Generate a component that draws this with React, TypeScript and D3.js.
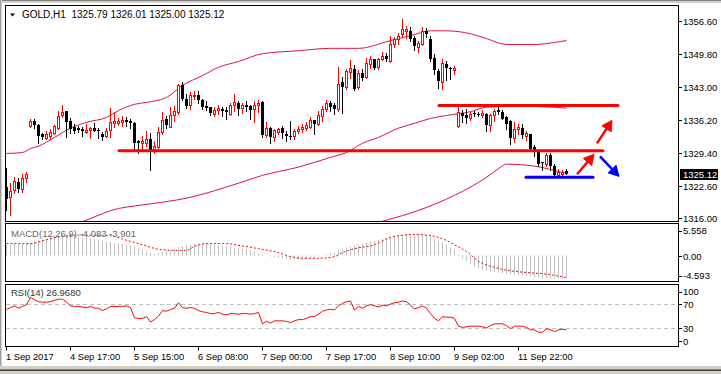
import React from "react";
import * as d3 from "d3";

const W = 721;
const H = 374;

// H1 bars, oldest first: [open, high, low, close]
const ohlc: [number, number, number, number][] = [
  [1322.5, 1326.4, 1317.6, 1320.0], [1320.3, 1323.2, 1316.6, 1321.5], [1321.7, 1324.4, 1321.1, 1323.6],
  [1323.4, 1324.2, 1321.4, 1321.9], [1321.9, 1325.0, 1321.3, 1324.2], [1324.2, 1325.4, 1323.4, 1325.0],
  [1334.9, 1336.4, 1334.7, 1336.0], [1335.9, 1336.3, 1334.5, 1335.1], [1335.2, 1335.4, 1331.4, 1332.9],
  [1333.2, 1333.6, 1332.3, 1332.7], [1332.5, 1334.0, 1332.2, 1333.4], [1332.9, 1334.3, 1332.3, 1333.7],
  [1333.6, 1335.2, 1333.2, 1334.9], [1334.6, 1338.1, 1334.4, 1337.0], [1337.3, 1339.3, 1336.8, 1337.8],
  [1338.1, 1338.1, 1332.7, 1335.7], [1335.9, 1336.5, 1333.6, 1334.4], [1334.7, 1335.3, 1333.6, 1334.0],
  [1334.5, 1335.0, 1333.7, 1334.1], [1334.4, 1334.8, 1332.8, 1334.0], [1333.7, 1335.4, 1333.5, 1334.2],
  [1334.2, 1334.7, 1332.5, 1334.6], [1334.6, 1335.6, 1333.9, 1334.0], [1334.2, 1334.5, 1332.4, 1333.9],
  [1333.4, 1333.7, 1332.0, 1332.7], [1332.9, 1334.5, 1332.7, 1334.0], [1334.2, 1338.6, 1332.7, 1335.7],
  [1335.6, 1337.8, 1334.7, 1335.9], [1335.5, 1336.6, 1335.1, 1335.9], [1335.8, 1336.9, 1335.0, 1336.2],
  [1336.2, 1336.7, 1335.0, 1335.7], [1335.9, 1336.4, 1334.5, 1335.5], [1335.6, 1335.7, 1330.3, 1331.4],
  [1331.8, 1332.0, 1329.3, 1331.4], [1331.4, 1332.8, 1329.8, 1331.8], [1331.4, 1333.9, 1330.9, 1332.2],
  [1332.3, 1333.6, 1326.0, 1329.9], [1329.9, 1331.8, 1329.3, 1330.9], [1330.7, 1334.7, 1329.9, 1333.8],
  [1333.8, 1337.9, 1333.3, 1336.2], [1336.4, 1336.9, 1334.5, 1335.2], [1334.8, 1338.8, 1334.7, 1337.2],
  [1337.3, 1339.1, 1336.0, 1338.0], [1337.8, 1343.6, 1337.5, 1343.3], [1343.3, 1344.0, 1340.2, 1340.5],
  [1340.5, 1341.6, 1338.7, 1339.1], [1339.3, 1342.0, 1338.5, 1341.4], [1341.1, 1342.1, 1340.5, 1341.4],
  [1341.4, 1342.1, 1339.6, 1340.3], [1340.3, 1340.5, 1338.5, 1338.8], [1339.0, 1340.1, 1338.2, 1338.7],
  [1338.8, 1338.9, 1337.3, 1337.6], [1337.5, 1338.8, 1337.0, 1338.3], [1338.3, 1339.3, 1337.5, 1338.7],
  [1338.5, 1338.8, 1336.9, 1338.0], [1338.3, 1338.9, 1336.3, 1337.8], [1337.5, 1339.7, 1337.2, 1339.2],
  [1339.3, 1341.6, 1338.1, 1339.8], [1339.6, 1340.0, 1337.3, 1338.5], [1338.6, 1339.6, 1337.7, 1339.3],
  [1339.2, 1340.1, 1338.0, 1338.9], [1339.0, 1339.2, 1336.4, 1338.3], [1338.5, 1340.0, 1335.7, 1339.3],
  [1339.2, 1340.3, 1337.8, 1339.7], [1339.8, 1340.0, 1332.7, 1333.0], [1333.0, 1335.8, 1332.6, 1334.6],
  [1334.5, 1334.7, 1331.4, 1332.7], [1332.7, 1334.4, 1331.8, 1334.2], [1333.7, 1334.6, 1333.2, 1334.3],
  [1334.6, 1335.0, 1332.5, 1333.5], [1333.2, 1334.0, 1331.8, 1332.9], [1332.9, 1335.9, 1332.2, 1332.7],
  [1332.9, 1334.4, 1332.3, 1334.0], [1334.0, 1334.9, 1333.6, 1334.4], [1334.3, 1335.3, 1333.8, 1334.7],
  [1334.6, 1335.8, 1334.1, 1335.1], [1334.8, 1336.8, 1334.5, 1336.1], [1336.1, 1336.2, 1333.3, 1335.4],
  [1335.4, 1338.0, 1335.1, 1337.3], [1336.9, 1339.0, 1336.0, 1338.5], [1338.5, 1340.2, 1338.0, 1339.6],
  [1339.6, 1340.1, 1338.1, 1338.8], [1339.2, 1339.6, 1337.5, 1338.5], [1338.5, 1347.1, 1338.1, 1343.6],
  [1343.9, 1345.0, 1337.6, 1343.0], [1343.0, 1346.6, 1342.6, 1346.3], [1346.1, 1348.5, 1344.9, 1346.8],
  [1346.6, 1347.4, 1342.3, 1342.5], [1343.0, 1346.4, 1342.5, 1345.9], [1345.9, 1346.6, 1344.4, 1344.9],
  [1345.1, 1349.0, 1344.8, 1347.9], [1347.7, 1349.4, 1346.9, 1348.7], [1348.7, 1348.8, 1346.6, 1346.9],
  [1347.1, 1349.0, 1346.6, 1348.8], [1348.8, 1350.2, 1348.5, 1349.4], [1349.4, 1349.9, 1348.2, 1348.7],
  [1348.3, 1353.5, 1348.1, 1351.7], [1351.7, 1353.3, 1351.1, 1352.8], [1352.8, 1354.1, 1351.7, 1353.5],
  [1353.8, 1357.0, 1353.5, 1354.8], [1354.5, 1355.5, 1353.1, 1354.9], [1354.5, 1355.2, 1352.4, 1352.8],
  [1353.1, 1353.4, 1350.5, 1351.4], [1351.2, 1352.4, 1350.2, 1351.9], [1351.7, 1355.2, 1351.5, 1354.5],
  [1354.5, 1355.1, 1353.2, 1353.8], [1352.9, 1353.5, 1348.4, 1348.8], [1349.0, 1349.7, 1345.6, 1346.5],
  [1346.3, 1346.6, 1342.7, 1344.2], [1344.0, 1348.7, 1342.6, 1347.9], [1347.6, 1348.3, 1344.4, 1346.8],
  [1346.8, 1347.1, 1344.7, 1346.6], [1346.5, 1347.3, 1345.7, 1346.8], [1334.9, 1338.8, 1334.7, 1337.8],
  [1337.7, 1338.2, 1335.7, 1337.0], [1337.3, 1338.5, 1335.5, 1336.6], [1336.6, 1337.8, 1336.1, 1337.5],
  [1337.6, 1338.0, 1337.0, 1337.4], [1337.5, 1337.8, 1337.0, 1337.3], [1337.3, 1338.2, 1336.8, 1337.7],
  [1337.5, 1337.7, 1334.0, 1335.1], [1335.2, 1337.5, 1334.0, 1337.3], [1337.2, 1338.5, 1335.9, 1338.1],
  [1338.2, 1338.9, 1337.5, 1337.9], [1337.9, 1338.3, 1336.3, 1336.4], [1336.8, 1337.0, 1334.3, 1335.4],
  [1335.9, 1336.1, 1331.3, 1332.4], [1332.4, 1335.7, 1331.6, 1334.4], [1334.4, 1335.4, 1333.2, 1334.8],
  [1334.6, 1335.4, 1332.4, 1333.0], [1332.9, 1333.9, 1332.0, 1333.6], [1333.3, 1333.3, 1330.0, 1330.2],
  [1330.6, 1331.0, 1328.8, 1329.9], [1329.6, 1329.7, 1326.8, 1327.2], [1327.5, 1327.5, 1326.0, 1327.3],
  [1327.2, 1329.3, 1326.8, 1328.9], [1329.0, 1329.3, 1326.0, 1326.8], [1326.8, 1327.2, 1324.5, 1324.8],
  [1324.9, 1326.2, 1324.5, 1325.5], [1325.0, 1325.9, 1324.6, 1325.5], [1325.79, 1326.01, 1325.0, 1325.12],
];

// Bollinger bands: [bar, price]
const upperBand: [number, number][] = [
  [0, 1329.3], [4, 1329.5], [6, 1330.3], [8, 1330.8], [12, 1332.6], [16, 1334.5], [20, 1335.7],
  [25, 1336.7], [28, 1338.1], [32, 1339.4], [35, 1339.8], [40, 1340.8], [44, 1343.3], [49, 1345.3],
  [53, 1347.0], [58, 1348.2], [64, 1349.8], [73, 1350.4], [81, 1350.9], [88, 1350.9], [96, 1352.5],
  [101, 1353.5], [106, 1354.5], [110, 1354.5], [116, 1353.9], [120, 1352.9], [125, 1351.7],
  [132, 1351.7], [137, 1352.1], [140, 1352.5],
];
const middleBand: [number, number][] = [
  [13, 1313.1], [20, 1315.6], [28, 1318.0], [32, 1318.5], [46, 1320.3], [58, 1323.2], [64, 1324.8],
  [73, 1326.5], [81, 1328.5], [85, 1329.5], [89, 1331.4], [93, 1332.6], [98, 1334.5], [102, 1335.5],
  [106, 1336.5], [110, 1337.1], [116, 1337.9], [120, 1338.8], [128, 1339.0], [137, 1338.8], [140, 1338.6],
];
const lowerBand: [number, number][] = [
  [88, 1314.0], [95, 1315.6], [103, 1317.6], [112, 1320.7], [116, 1322.4], [120, 1324.4], [123, 1326.2],
  [125, 1327.1], [132, 1326.7], [137, 1325.8], [140, 1325.2],
];

// MACD(12,26,9) main, one per bar
const macdMain = [
  1.9, 1.9, 2.0, 2.0, 2.0, 2.1, 2.3, 2.5, 2.7, 2.8, 3.0,
  3.2, 3.3, 3.4, 3.5, 3.5, 3.5, 3.4, 3.3, 3.2, 3.1, 3.0, 2.9, 2.8, 2.6, 2.5, 2.3,
  2.2, 2.1, 2.0, 1.9, 1.8, 1.5, 1.2, 0.9, 0.7, 0.4, 0.3, 0.4, 0.6, 0.8, 1.0, 1.2, 1.5,
  1.7, 1.8, 1.9, 2.0, 2.1, 2.1, 2.0, 1.9, 1.9, 1.8, 1.7, 1.6, 1.6,
  1.4, 1.3, 1.2, 1.1, 0.9, 0.7, 0.5, 0.2, 0.0, -0.2, -0.3, -0.4, -0.5, -0.6, -0.7, -0.7, -0.7,
  -0.7, -0.6, -0.5, -0.4, -0.2, 0.0, 0.2, 0.4, 0.5, 0.9, 1.1, 1.4, 1.6, 1.7, 1.9,
  2.1, 2.3, 2.5, 2.6, 2.8, 2.9, 3.1, 3.3, 3.4, 3.5, 3.6, 3.7, 3.7, 3.6, 3.6, 3.7, 3.6, 3.4,
  3.0, 2.6, 2.3, 1.9, 1.4, 0.9, 0.2, -0.5, -1.0, -1.5, -1.9, -2.2, -2.5, -2.7,
  -2.9, -3.0, -3.0, -3.1, -3.2, -3.4, -3.4, -3.4, -3.5, -3.5, -3.7, -3.8, -3.9, -4.0, -4.0,
  -4.0, -4.1, -4.1, -4.1, -4.083,
];
// MACD signal line: [bar, value]
const macdSignal: [number, number][] = [
  [0, 2.1], [6, 2.1], [10, 2.8], [15, 3.5], [18, 3.6], [26, 3.5], [29, 2.9], [34, 1.9], [38, 1.1],
  [42, 0.9], [45, 0.9], [47, 1.6], [50, 2.1], [55, 2.1], [58, 1.8], [63, 1.2], [68, 0.5], [71, -0.2],
  [74, -0.5], [78, -0.5], [82, -0.2], [84, 0.5], [87, 1.2], [92, 1.9], [96, 3.2], [102, 3.7],
  [106, 3.5], [108, 3.2], [112, 1.9], [115, 0.7], [118, -1.0], [122, -2.1], [125, -2.6], [130, -3.0],
  [135, -3.3], [140, -3.901],
];
// RSI(14), one per bar
const rsi = [
  61, 64, 67, 63, 66, 69, 81, 77, 74, 73, 73, 74, 76, 78, 78, 73, 67, 66, 66, 65,
  64, 66, 63, 63, 59, 62, 66, 66, 66, 66, 67, 64, 47, 46, 46, 49, 40, 44, 50, 59,
  58, 61, 63, 72, 64, 63, 64, 63, 59, 57, 56, 54, 54, 56, 53, 52, 54, 54, 53, 54,
  54, 53, 54, 56, 37, 41, 38, 42, 42, 42, 41, 39, 42, 44, 44, 46, 49, 49, 53, 58,
  60, 61, 60, 67, 71, 74, 75, 60, 66, 63, 67, 69, 67, 65, 68, 67, 70, 72, 73, 75,
  74, 68, 62, 64, 67, 63, 54, 46, 42, 49, 48, 48, 46, 33, 31, 32, 33, 33, 33, 32,
  30, 34, 37, 37, 37, 34, 29, 33, 33, 33, 31, 27, 27, 23, 23, 29, 27, 24, 27, 28,
  26.968,
];

const priceTicks = [1356.6, 1349.8, 1343.0, 1336.2, 1329.4, 1322.6, 1316.0];
const macdTicks = [5.558, 0, -4.593];
const rsiTicks = [100, 70, 30, 0];
const timeLabels = [
  "1 Sep 2017", "4 Sep 17:00", "5 Sep 15:00", "6 Sep 08:00", "7 Sep 00:00",
  "7 Sep 17:00", "8 Sep 10:00", "9 Sep 02:00", "11 Sep 22:00",
];
const timeLabelBars = [0, 16, 32, 48, 64, 80, 96, 112, 128];

// drawn objects, in bar / price units
const resistance = { price: 1339.17, from: 108.25, to: 153 };
const support = { price: 1329.84, from: 28.25, to: 149.25 };
const bottomLine = { price: 1324.4, from: 130, to: 146.75 };
const upArrows: [number, number, number, number][] = [
  [142.75, 1325.02, 147.0, 1329.12],
  [147.75, 1331.38, 151.5, 1336.1],
];
const downArrows: [number, number, number, number][] = [[148.5, 1328.71, 153.25, 1324.6]];

const FONT = "'Liberation Sans', Arial, sans-serif";

function arrowParts(x1: number, y1: number, x2: number, y2: number) {
  const dx = x2 - x1;
  const dy = y2 - y1;
  const len = Math.hypot(dx, dy);
  const ux = dx / len;
  const uy = dy / len;
  const head = 10;
  const half = 5.5;
  const bx = x2 - ux * head;
  const by = y2 - uy * head;
  const nx = -uy;
  const ny = ux;
  return {
    shaft: `M${x1},${y1}L${bx + ux},${by + uy}`,
    head: `M${x2},${y2}L${bx + nx * half},${by + ny * half}L${bx - nx * half},${by - ny * half}Z`,
  };
}

export default function App() {
  const x = d3.scaleLinear().domain([0, 168]).range([6, 678]);
  const y = d3.scaleLinear().domain([1316, 1356.6]).range([218.2, 20.6]);
  const yM = d3.scaleLinear().domain([-4.593, 5.558]).range([281.5, 224]);
  const yR = d3.scaleLinear().domain([0, 100]).range([346, 286]);
  const px = (i: number) => Math.round(x(i)) + 0.5;

  const bandLine = d3
    .line<[number, number]>()
    .x((d) => x(d[0]) + 0.5)
    .y((d) => y(d[1]))
    .curve(d3.curveMonotoneX);
  const signalLine = d3
    .line<[number, number]>()
    .x((d) => x(d[0]) + 0.5)
    .y((d) => yM(d[1]))
    .curve(d3.curveMonotoneX);
  const rsiLine = d3
    .line<number>()
    .x((_, i) => px(i))
    .y((d) => yR(d));

  const lastBar = ohlc[ohlc.length - 1];
  const last = lastBar[3];
  const zeroM = Math.round(yM(0)) + 0.5;
  const header = `GOLD,H1\u00a0\u00a0${lastBar.map((v) => v.toFixed(2)).join(" ")}`;
  const macdText = `MACD(12,26,9) ${macdMain[macdMain.length - 1].toFixed(3)} ${macdSignal[
    macdSignal.length - 1
  ][1].toFixed(3)}`;

  return (
    <svg
      width={W}
      height={H}
      style={{ position: "absolute", left: 0, top: 0, background: "#fff" }}
      fontFamily={FONT}
    >
      <defs>
        <clipPath id="mainClip">
          <rect x={6} y={6} width={672} height={215} />
        </clipPath>
        <clipPath id="macdClip">
          <rect x={6} y={224} width={672} height={57} />
        </clipPath>
        <clipPath id="rsiClip">
          <rect x={6} y={285} width={672} height={61} />
        </clipPath>
      </defs>

      {/* window chrome */}
      <rect x={0} y={0} width={W} height={H} fill="#fff" />
      <rect x={0} y={0} width={W} height={1} fill="#808080" />
      <rect x={0} y={1} width={W} height={2} fill="#d4d0c8" />
      <rect x={0} y={0} width={1} height={H} fill="#a0a0a0" />
      <rect x={1} y={0} width={1} height={H} fill="#d4d0c8" />
      <rect x={0} y={366} width={W} height={8} fill="#d4d0c8" />
      <rect x={0} y={369} width={W} height={1} fill="#808080" />
      <rect x={0} y={370} width={W} height={1} fill="#404040" />

      {/* main panel */}
      <g clipPath="url(#mainClip)">
        {[upperBand, middleBand, lowerBand].map((b, k) => (
          <path key={k} d={bandLine(b) ?? ""} fill="none" stroke="#dc143c" strokeWidth={1} />
        ))}
        {ohlc.map(([o, h, l, c], i) => {
          const cx = px(i);
          const bull = c >= o;
          const col = bull ? "#ff0000" : "#000";
          const top = Math.round(y(Math.max(o, c)));
          const bot = Math.round(y(Math.min(o, c)));
          return (
            <g key={i}>
              <line x1={cx} x2={cx} y1={Math.round(y(h))} y2={Math.round(y(l)) + 1} stroke={col} />
              {bull ? (
                <rect x={cx - 1} y={top + 0.5} width={2} height={Math.max(bot - top, 1)} fill="#fff" stroke={col} />
              ) : (
                <rect x={cx - 1.5} y={top} width={3} height={Math.max(bot - top, 1)} fill="#000" />
              )}
            </g>
          );
        })}
      </g>

      {/* drawn levels and arrows */}
      {[resistance, support].map((lv, k) => (
        <line
          key={k}
          x1={x(lv.from)}
          x2={x(lv.to)}
          y1={y(lv.price)}
          y2={y(lv.price)}
          stroke="#ff0000"
          strokeWidth={3}
          strokeLinecap="round"
        />
      ))}
      <line
        x1={x(bottomLine.from)}
        x2={x(bottomLine.to)}
        y1={y(bottomLine.price)}
        y2={y(bottomLine.price)}
        stroke="#0000ff"
        strokeWidth={3}
        strokeLinecap="round"
      />
      {[...upArrows.map((a) => ({ a, col: "#ff0000" })), ...downArrows.map((a) => ({ a, col: "#0000ff" }))].map(
        ({ a, col }, k) => {
          const p = arrowParts(x(a[0]), y(a[1]), x(a[2]), y(a[3]));
          return (
            <g key={k}>
              <path d={p.shaft} stroke={col} strokeWidth={2.5} fill="none" />
              <path d={p.head} fill={col} stroke={col} strokeWidth={1} strokeLinejoin="round" />
            </g>
          );
        }
      )}

      {/* header */}
      <path d="M10,13.5L15,13.5L12.5,16.5Z" fill="#000" />
      <text x={22} y={17.5} fontSize={10} fill="#000">
        {header}
      </text>

      {/* MACD panel */}
      <g clipPath="url(#macdClip)">
        {macdMain.map((v, i) => (
          <line key={i} x1={px(i)} x2={px(i)} y1={zeroM} y2={yM(v)} stroke="#c0c0c0" />
        ))}
        <path d={signalLine(macdSignal) ?? ""} fill="none" stroke="#ff0000" strokeWidth={1} strokeDasharray="2,2" />
      </g>
      <text x={11} y={236.5} fontSize={9.5} fill="#6a6a6a">
        {macdText}
      </text>

      {/* RSI panel */}
      <g clipPath="url(#rsiClip)">
        {[70, 30].map((lv) => (
          <line
            key={lv}
            x1={6}
            x2={678}
            y1={Math.round(yR(lv)) + 0.5}
            y2={Math.round(yR(lv)) + 0.5}
            stroke="#c0c0c0"
            strokeDasharray="4,3"
          />
        ))}
        <path d={rsiLine(rsi) ?? ""} fill="none" stroke="#ff0000" strokeWidth={1} />
      </g>
      <text x={11} y={296} fontSize={9.5} fill="#333">
        {`RSI(14) ${rsi[rsi.length - 1].toFixed(4)}`}
      </text>

      {/* panel frames */}
      <rect x={5.5} y={5.5} width={673} height={216} fill="none" stroke="#000" />
      <rect x={5.5} y={223.5} width={673} height={58} fill="none" stroke="#000" />
      <rect x={5.5} y={284.5} width={673} height={62} fill="none" stroke="#000" />

      {/* price axis */}
      {priceTicks.map((p) => {
        const ty = Math.round(y(p)) + 0.5;
        return (
          <g key={p}>
            <line x1={678.5} x2={682} y1={ty} y2={ty} stroke="#000" />
            <text x={683} y={ty + 3.5} fontSize={9.5} fill="#000">
              {p.toFixed(2)}
            </text>
          </g>
        );
      })}
      <rect x={680} y={Math.round(y(last)) - 5} width={38} height={11} fill="#000" />
      <text x={683} y={Math.round(y(last)) + 4} fontSize={9.5} fill="#fff">
        {last.toFixed(2)}
      </text>

      {macdTicks.map((v, k) => {
        const ty = yM(v) + (k === 0 ? 6.5 : k === 2 ? -6 : 1);
        return (
          <g key={v}>
            <line x1={678.5} x2={682} y1={Math.round(ty) + 0.5} y2={Math.round(ty) + 0.5} stroke="#000" />
            <text x={683} y={ty + 3.5} fontSize={9.5} fill="#000">
              {k === 1 ? "0.00" : v.toFixed(3)}
            </text>
          </g>
        );
      })}
      {rsiTicks.map((v) => {
        const ty = yR(v) + (v === 100 ? 5.5 : v === 0 ? -5 : 0);
        return (
          <g key={v}>
            <line x1={678.5} x2={682} y1={Math.round(ty) + 0.5} y2={Math.round(ty) + 0.5} stroke="#000" />
            <text x={683} y={ty + 3.5} fontSize={9.5} fill="#000">
              {v}
            </text>
          </g>
        );
      })}

      {/* time axis */}
      {timeLabelBars.map((b, k) => (
        <g key={b}>
          <line x1={px(b)} x2={px(b)} y1={346.5} y2={350.5} stroke="#000" />
          <text x={px(b) - 0.5} y={360} fontSize={9.3} fill="#000">
            {timeLabels[k]}
          </text>
        </g>
      ))}
    </svg>
  );
}
